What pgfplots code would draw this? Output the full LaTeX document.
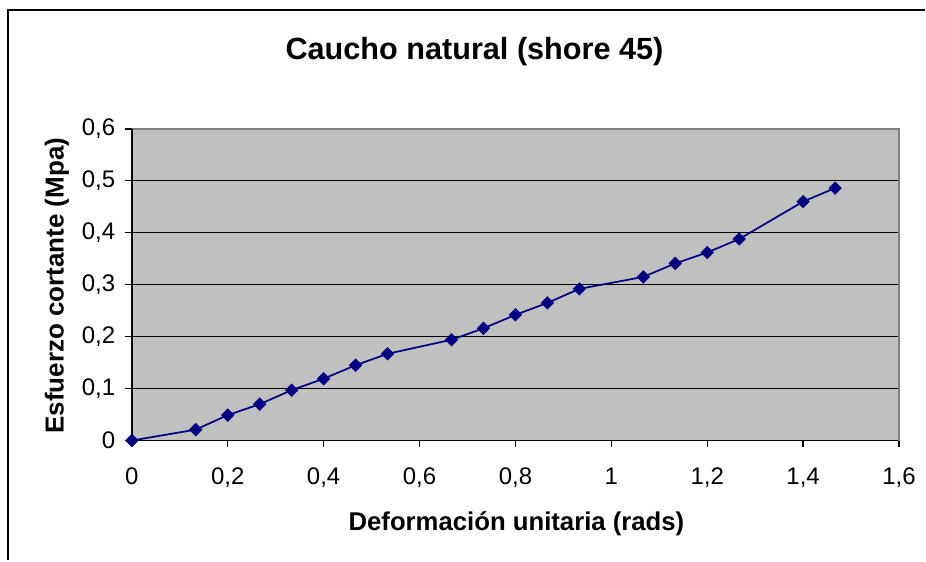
\documentclass[border=0pt]{standalone}
\usepackage{pgfplots}
\pgfplotsset{compat=1.18}
\usepackage{fontspec}
\setmainfont{Liberation Sans}
\definecolor{plotgray}{RGB}{192,192,192}
\definecolor{navy}{RGB}{0,0,128}
\definecolor{bordergray}{RGB}{128,128,128}
\begin{document}
\begin{tikzpicture}[x=0.75pt,y=0.75pt]
\path (0,0) rectangle (926,561);
\draw[line width=1.5pt] (8,0) -- (8,551) -- (926,551);
\node[font=\bfseries\fontsize{23}{27}\selectfont] at (475,509) {Caucho natural (shore 45)};
\node[font=\bfseries\fontsize{19.3}{23}\selectfont] at (517,37) {Deformación unitaria (rads)};
\node[font=\bfseries\fontsize{19.5}{23}\selectfont, rotate=90] at (57,275) {Esfuerzo cortante (Mpa)};
\begin{axis}[
  at={(99pt,90pt)}, anchor=south west,
  scale only axis, width=576pt, height=234pt,
  xmin=0, xmax=1.6, ymin=0, ymax=0.6,
  xtick={0,0.2,0.4,0.6,0.8,1,1.2,1.4,1.6},
  ytick={0,0.1,0.2,0.3,0.4,0.5,0.6},
  /pgf/number format/assume math mode=true,
  /pgf/number format/use comma,
  /pgf/number format/fixed,
  /pgf/number format/precision=1,
  axis background/.style={fill=plotgray},
  ymajorgrids, grid style={black, line width=1pt},
  axis x line*=bottom, axis y line*=left,
  x axis line style={-, black, line width=1pt},
  y axis line style={-, black, line width=1pt},
  tick align=outside, major tick length=5pt,
  tick style={black, line width=1pt},
  ticklabel style={font=\fontsize{18}{21}\selectfont},
  xticklabel style={yshift=-12pt},
  yticklabel style={xshift=-4pt},
  clip=false,
]
\draw[bordergray, line width=1.5pt] (rel axis cs:0,1) -- (rel axis cs:1,1) -- (rel axis cs:1,0);
\draw[black, line width=1pt] (rel axis cs:0,0) -- (rel axis cs:0,1);
\addplot[navy, line width=1.3pt, mark=square*, mark size=3.3pt, mark options={fill=navy, draw=navy, line width=0.5pt, rotate=45}] coordinates {
(0,0)
(0.1333,0.021)
(0.2,0.049)
(0.2667,0.070)
(0.3333,0.097)
(0.4,0.119)
(0.4667,0.145)
(0.5333,0.167)
(0.6667,0.194)
(0.7333,0.216)
(0.8,0.242)
(0.8667,0.265)
(0.9333,0.292)
(1.0667,0.315)
(1.1333,0.341)
(1.2,0.362)
(1.2667,0.388)
(1.4,0.460)
(1.4667,0.486)
};
\end{axis}
\end{tikzpicture}
\end{document}
